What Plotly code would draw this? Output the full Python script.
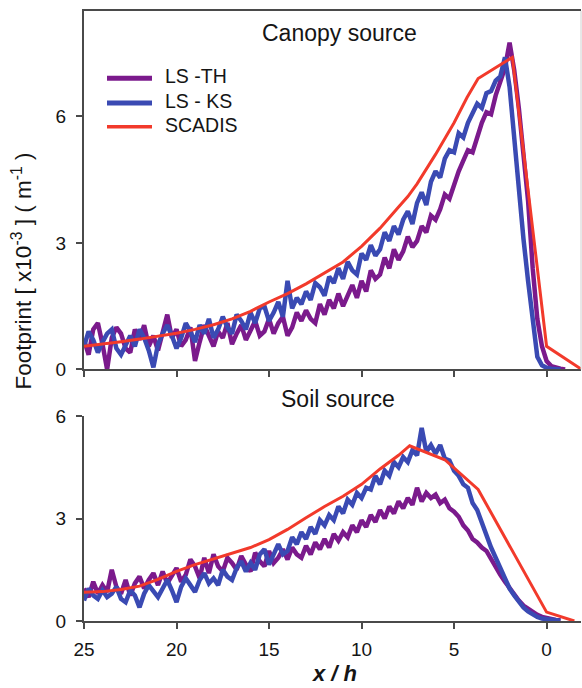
import plotly.graph_objects as go

# sampling grid (x / h), 25 -> -1 in steps of 0.25
X = [25, 24.75, 24.5, 24.25, 24, 23.75, 23.5, 23.25, 23, 22.75, 22.5, 22.25,
     22, 21.75, 21.5, 21.25, 21, 20.75, 20.5, 20.25, 20, 19.75, 19.5, 19.25,
     19, 18.75, 18.5, 18.25, 18, 17.75, 17.5, 17.25, 17, 16.75, 16.5, 16.25,
     16, 15.75, 15.5, 15.25, 15, 14.75, 14.5, 14.25, 14, 13.75, 13.5, 13.25,
     13, 12.75, 12.5, 12.25, 12, 11.75, 11.5, 11.25, 11, 10.75, 10.5, 10.25,
     10, 9.75, 9.5, 9.25, 9, 8.75, 8.5, 8.25, 8, 7.75, 7.5, 7.25,
     7, 6.75, 6.5, 6.25, 6, 5.75, 5.5, 5.25, 5, 4.75, 4.5, 4.25,
     4, 3.75, 3.5, 3.25, 3, 2.75, 2.5, 2.25, 2, 1.75, 1.5, 1.25,
     1, 0.75, 0.5, 0.25, 0, -0.25, -0.5, -0.75, -1]

# ---------- Canopy source ----------
canopy_ks = [
    0.55, 0.90, 0.70, 0.40,  0.65, 0.85, 0.95, 0.50,  0.35, 0.60, 0.80, 0.55,
    0.95, 0.75, 0.45, 0.05,  0.60, 0.85, 1.05, 0.80,  0.50, 0.75, 1.10, 0.90,
    0.65, 1.05, 0.85, 1.20,  0.75, 0.95, 1.25, 1.00,  0.85, 1.30, 1.15, 0.95,
    1.35, 1.10, 1.45, 1.50,  1.15, 1.35, 1.60, 1.25,  2.10, 1.45, 1.70, 1.55,
    1.85, 1.65, 2.05, 1.95,  1.75, 2.20, 2.05, 2.40,  2.15, 2.55, 2.35, 2.25,
    2.75, 2.60, 2.95, 2.70,  2.85, 3.25, 3.05, 3.40,  3.20, 3.55, 3.75, 3.45,
    3.95, 4.20, 3.90, 4.45,  4.70, 4.55, 5.00, 5.20,  5.15, 5.60, 5.50, 5.85,
    6.05, 6.30, 6.20, 6.55,  6.60, 6.85, 6.95, 7.40,  6.70, 5.40, 4.10, 3.10,
    2.10, 1.10, 0.30, 0.10,  0.04, 0.02, 0.01, 0.00,  None]

canopy_th = [
    0.70, 0.35, 0.95, 1.10,  0.60, 0.00, 0.75, 1.00,  0.85, 0.50, 0.40, 0.95,
    0.70, 1.05, 0.55, 0.80,  0.45, 0.90, 1.30, 0.75,  0.95, 0.55, 0.70, 1.00,
    0.20, 0.65, 1.05, 0.80,  0.55, 0.90, 0.75, 1.10,  0.60, 0.85, 1.05, 0.70,
    0.95, 1.15, 0.80, 0.90,  1.20, 0.85, 1.10, 1.25,  0.80, 1.00, 1.35, 1.15,
    1.40, 1.20, 1.10, 1.55,  1.30, 1.65, 1.45, 1.80,  1.50, 1.75, 2.00, 1.70,
    2.10, 1.85, 2.35, 2.15,  2.25, 2.65, 2.40, 2.85,  2.60, 2.80, 3.15, 2.90,
    3.05, 3.40, 3.25, 3.65,  3.55, 3.80, 4.15, 4.05,  4.40, 4.70, 4.95, 5.20,
    5.15, 5.55, 5.85, 6.10,  6.05, 6.50, 6.85, 7.15,  7.75, 7.10, 6.20, 5.00,
    4.00, 2.40, 1.20, 0.55,  0.20, 0.08, 0.04, 0.02,  0.00]

canopy_sc_x = [25, 24, 23, 22, 21, 20, 19, 18, 17, 16, 15, 14, 13, 12, 11, 10,
               9, 8, 7.5, 7, 6, 5, 4.3, 3.7, 1.85, 0, -1.9]
canopy_sc_y = [0.55, 0.60, 0.66, 0.72, 0.79, 0.86, 0.95, 1.06, 1.20, 1.38, 1.60,
               1.80, 2.03, 2.28, 2.55, 2.92, 3.35, 3.85, 4.10, 4.40, 5.10, 5.85,
               6.45, 6.90, 7.40, 0.55, 0.00]

# ---------- Soil source ----------
soil_ks = [
    0.60, 0.95, 0.75, 0.65,  0.90, 0.70, 0.80, 1.00,  0.65, 0.55, 0.90, 0.75,
    0.40, 0.80, 1.05, 0.85,  0.70, 0.95, 1.20, 0.90,  0.55, 1.00, 1.25, 1.05,
    0.85, 1.20, 1.40, 1.10,  1.25, 1.05, 1.50, 1.30,  1.20, 1.55, 1.75, 1.45,
    1.70, 1.50, 1.95, 2.10,  1.65, 1.95, 2.25, 1.95,  2.05, 2.45, 2.25, 2.60,
    2.40, 2.75, 2.55, 2.95,  2.80, 3.10, 2.95, 3.35,  3.15, 3.55, 3.40, 3.75,
    3.60, 3.90, 3.85, 4.25,  4.00, 4.40, 4.25, 4.65,  4.50, 4.80, 4.65, 5.00,
    4.85, 5.65, 4.95, 5.15,  4.90, 5.15, 4.75, 4.70,  4.40, 4.25, 4.00, 3.90,
    3.45, 3.25, 2.85, 2.50,  2.15, 1.85, 1.55, 1.25,  0.95, 0.75, 0.55, 0.40,
    0.28, 0.18, 0.12, 0.07,  0.05, 0.03, 0.02, 0.01,  None]

soil_th = [
    0.95, 0.70, 1.15, 0.80,  1.05, 0.85, 1.50, 1.00,  0.80, 1.20, 0.75, 1.10,
    1.30, 0.95, 1.20, 1.40,  1.05, 1.45, 1.10, 1.30,  1.55, 1.15, 1.35, 1.80,
    1.60, 1.25, 1.85, 1.40,  1.95, 1.60, 1.45, 1.85,  1.70, 1.50, 1.90, 1.65,
    1.45, 2.00, 1.75, 1.60,  2.05, 1.70, 1.85, 2.10,  1.80, 2.15, 1.95, 1.85,
    2.20, 1.95, 2.30, 2.10,  2.40, 2.15, 2.55, 2.35,  2.60, 2.45, 2.80, 2.60,
    2.95, 2.75, 3.10, 2.90,  3.25, 3.00, 3.35, 3.15,  3.50, 3.30, 3.60, 3.40,
    3.90, 3.50, 3.75, 3.60,  3.70, 3.45, 3.55, 3.30,  3.20, 3.05, 2.80, 2.65,
    2.40, 2.30, 2.15, 2.05,  1.80, 1.60, 1.35, 1.15,  0.95, 0.75, 0.60, 0.45,
    0.35, 0.25, 0.18, 0.12,  0.08, 0.05, 0.03, 0.02,  None]

soil_sc_x = [25, 24, 23, 22, 21, 20, 19, 18, 17, 16, 15, 14, 13, 12, 11, 10,
             9, 8, 7.4, 5.5, 3.7, 0, -1.5]
soil_sc_y = [0.84, 0.86, 0.92, 1.02, 1.22, 1.45, 1.65, 1.82, 1.97, 2.15, 2.38,
             2.68, 3.02, 3.35, 3.65, 4.00, 4.45, 4.85, 5.13, 4.72, 3.85, 0.26, 0.00]

series_names = ["LS -TH", "LS - KS", "SCADIS"]
x_ticks = [25, 20, 15, 10, 5, 0]
y_ticks = [0, 3, 6]

PURPLE = "#7b1a8c"
BLUE = "#3a4ab3"
RED = "#f23a2b"
COLORS = [PURPLE, BLUE, RED]
WIDTHS = [4.5, 4.5, 3]

fig = go.Figure()

def add(x, y, k, axis):
    fig.add_trace(go.Scatter(
        x=x, y=y, mode="lines", name=series_names[k], showlegend=False,
        legendgroup=series_names[k],
        line=dict(color=COLORS[k], width=WIDTHS[k]),
        xaxis="x" if axis == 1 else "x2", yaxis="y" if axis == 1 else "y2",
    ))

add(X, canopy_th, 0, 1)
add(X, canopy_ks, 1, 1)
add(canopy_sc_x, canopy_sc_y, 2, 1)
add(X, soil_th, 0, 2)
add(X, soil_ks, 1, 2)
add(soil_sc_x, soil_sc_y, 2, 2)

FONT = "Liberation Sans, Arial, sans-serif"
AX = "#4a4a4a"
TXT = "#151515"
tickfont = dict(family=FONT, size=19, color=TXT)

xcommon = dict(range=[25, -1.86], showgrid=False, zeroline=False, showline=True,
               linecolor=AX, linewidth=2, ticks="outside", ticklen=6,
               tickwidth=1.5, tickcolor=AX, tickvals=x_ticks, tickfont=tickfont,
               ticklabelstandoff=4)
ycommon = dict(showgrid=False, zeroline=False, showline=True, linecolor=AX,
               linewidth=2, ticks="outside", ticklen=6, tickwidth=1.5,
               tickcolor=AX, tickvals=y_ticks, tickfont=tickfont,
               ticklabelstandoff=6)

H = 616.0
W = 497.0
def px(xp):
    return (xp - 84) / W
def py(yp):
    return (621 - yp) / H

annotations = [
    dict(text="Canopy source", x=px(339), y=py(27), size=23),
    dict(text="Soil source", x=px(338), y=py(397), size=23),
    dict(text="<b><i>x / h</i></b>", x=px(334), y=py(674), size=22),
]
annotations = [dict(text=a["text"], x=a["x"], y=a["y"], xref="paper", yref="paper",
                    xanchor="center", yanchor="middle", showarrow=False,
                    font=dict(family=FONT, size=a["size"], color=TXT))
               for a in annotations]
annotations.append(dict(text="Footprint [ x10<sup>-3</sup> ] ( m<sup>-1</sup> )",
                        x=px(22), y=py(268), xref="paper", yref="paper",
                        xanchor="center", yanchor="middle", showarrow=False,
                        textangle=-90, font=dict(family=FONT, size=22.5, color=TXT)))

# legend (drawn as key lines + labels in the top panel)
shapes = [dict(type="line", xref="paper", yref="paper", x0=1, x1=1,
               y0=py(367), y1=1, line=dict(color="#d0d0d0", width=1))]
legend_rows = [73, 98, 122]
for k, yy in enumerate(legend_rows):
    shapes.append(dict(type="line", xref="paper", yref="paper",
                       x0=px(107), x1=px(152), y0=py(yy), y1=py(yy),
                       line=dict(color=COLORS[k], width=WIDTHS[k] + 0.5)))
    annotations.append(dict(text=series_names[k], x=px(163), y=py(yy - 2),
                            xref="paper", yref="paper", xanchor="left",
                            yanchor="middle", showarrow=False,
                            font=dict(family=FONT, size=19.5, color=TXT)))

fig.update_layout(
    width=582, height=688,
    margin=dict(l=84, r=1, t=5, b=67),
    paper_bgcolor="white", plot_bgcolor="white",
    font=dict(family=FONT, color=TXT),
    xaxis=dict(xcommon, anchor="y", showticklabels=False, mirror=True),
    yaxis=dict(ycommon, range=[0, 8.5], domain=[py(367), 1], anchor="x"),
    xaxis2=dict(xcommon, anchor="y2", matches="x"),
    yaxis2=dict(ycommon, range=[0, 6], domain=[0, py(414)], anchor="x2"),
    showlegend=False,
    annotations=annotations,
    shapes=shapes,
)

fig.write_html("out.html")
